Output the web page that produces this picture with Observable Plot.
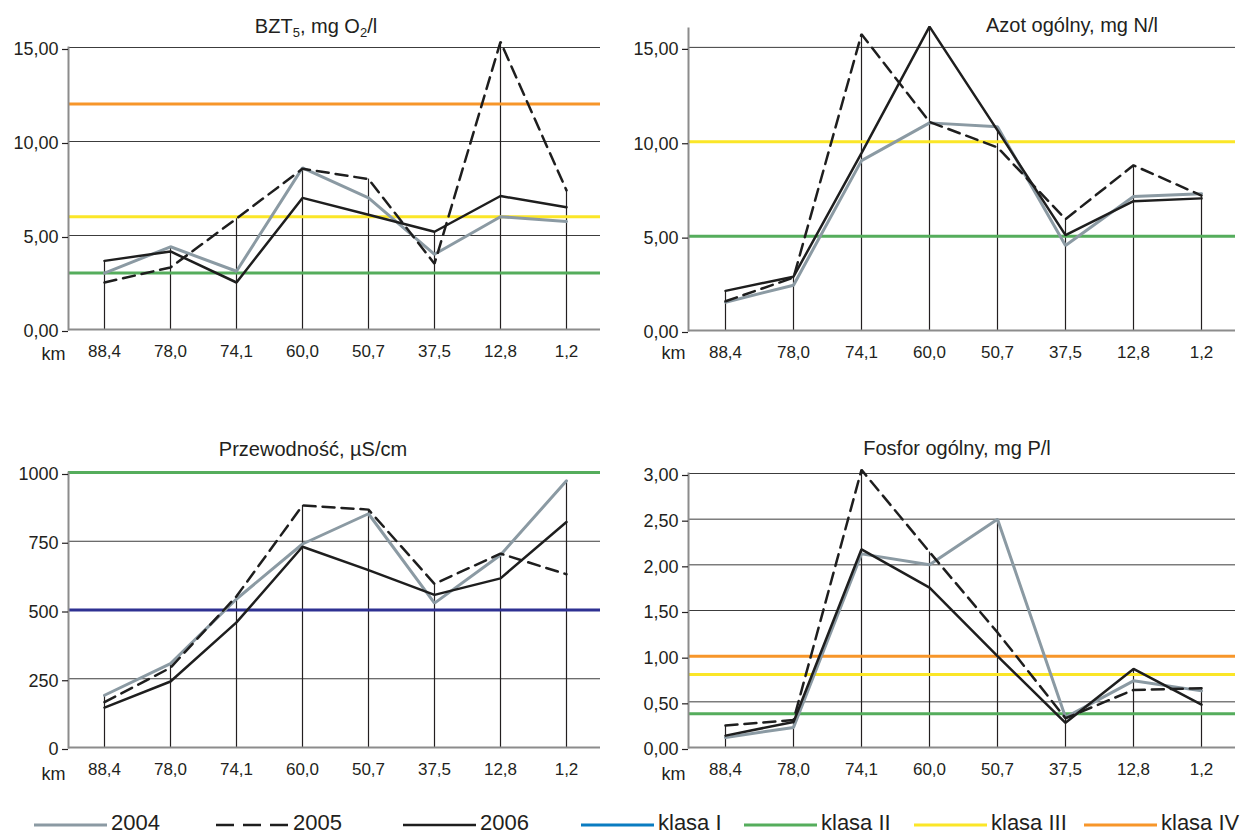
<!DOCTYPE html>
<html lang="pl">
<head>
<meta charset="utf-8">
<script src="https://cdn.jsdelivr.net/npm/d3@7"></script>
<script src="https://cdn.jsdelivr.net/npm/@observablehq/plot@0.6"></script>
<style>
  html, body { margin: 0; padding: 0; background: #fff; }
  #chart { position: relative; width: 1251px; height: 836px; overflow: hidden;
           font-family: "Liberation Sans", Arial, sans-serif; color: #231f20; }
  .panel { position: absolute; }
  .title { position: absolute; font-size: 20px; line-height: 20px; white-space: nowrap;
           transform: translateX(-50%); }
  .title sub { font-size: 13px; vertical-align: -4px; line-height: 0; }
  #legend { position: absolute; left: 0; top: 796px; }
</style>
</head>
<body>
<div id="chart"></div>
<script>
// Measuring stations along the river (km)
const km = ["88,4", "78,0", "74,1", "60,0", "50,7", "37,5", "12,8", "1,2"];
const years = ["2004", "2005", "2006"];
const classNames = ["klasa I", "klasa II", "klasa III", "klasa IV"];

// BZT5, mg O2/l
const bzt2004 = [3.0, 4.4, 3.1, 8.6, 7.0, 4.0, 6.0, 5.75];
const bzt2005 = [2.5, 3.3, 5.9, 8.55, 8.0, 3.5, 15.3, 7.4];
const bzt2006 = [3.65, 4.15, 2.5, 7.0, 6.1, 5.2, 7.1, 6.5];
const bztTicks = [0, 5, 10, 15];
const bztLimits = [3, 6, 12];
const bztClasses = ["klasa II", "klasa III", "klasa IV"];

// Azot ogólny, mg N/l
const azot2004 = [1.5, 2.4, 9.0, 11.0, 10.8, 4.5, 7.1, 7.25];
const azot2005 = [1.55, 2.8, 15.7, 11.05, 9.7, 5.9, 8.75, 7.15];
const azot2006 = [2.1, 2.85, 9.4, 16.1, 10.6, 5.05, 6.85, 7.0];
const azotTicks = [0, 5, 10, 15];
const azotLimits = [5, 10];
const azotClasses = ["klasa II", "klasa III"];

// Przewodność, µS/cm
const przew2004 = [190, 305, 540, 740, 850, 525, 700, 970];
const przew2005 = [165, 290, 550, 880, 865, 595, 705, 630];
const przew2006 = [145, 240, 455, 730, 645, 555, 615, 820];
const przewTicks = [0, 250, 500, 750, 1000];
const przewLimits = [500, 1000];
const przewClasses = ["klasa I", "klasa II"];

// Fosfor ogólny, mg P/l
const fosfor2004 = [0.11, 0.22, 2.12, 2.0, 2.5, 0.33, 0.73, 0.62];
const fosfor2005 = [0.24, 0.30, 3.04, 2.14, 1.26, 0.32, 0.63, 0.65];
const fosfor2006 = [0.13, 0.28, 2.17, 1.75, 1.0, 0.27, 0.86, 0.47];
const fosforTicks = [0, 0.5, 1, 1.5, 2, 2.5, 3];
const fosforLimits = [0.37, 0.8, 1.0];
const fosforClasses = ["klasa II", "klasa III", "klasa IV"];

// Styling
const FONT = '"Liberation Sans", Arial, sans-serif';
const INK = "#231f20";
const yearStyle = {
  "2004": {stroke: "#8b9aa3", width: 3, dash: null, legendDash: null},
  "2005": {stroke: "#1e1e1e", width: 2.5, dash: "12,7", legendDash: "18,9"},
  "2006": {stroke: "#1e1e1e", width: 2.5, dash: null, legendDash: null}
};
const classLineColor = {"klasa I": "#2e3192", "klasa II": "#55ad5c", "klasa III": "#fbe627", "klasa IV": "#f7962a"};
const classLegendColor = {"klasa I": "#0a7cc1", "klasa II": "#55ad5c", "klasa III": "#fbe627", "klasa IV": "#f7962a"};
const comma2 = d => d.toFixed(2).replace(".", ",");

const chart = document.getElementById("chart");

function panel(cfg) {
  const rows = km.map((k, i) => {
    const r = {km: k};
    years.forEach((y, j) => r[y] = cfg.series[j][i]);
    r.top = Math.max(...years.map(y => r[y]));
    return r;
  });
  const limits = cfg.limits.map((v, i) => ({v, klasa: cfg.classes[i]}));

  const svg = Plot.plot({
    width: cfg.width,
    height: 380,
    marginTop: cfg.marginTop,
    marginBottom: cfg.marginBottom,
    marginLeft: 68,
    marginRight: cfg.marginRight,
    style: {fontFamily: FONT, color: INK, background: "transparent", overflow: "visible"},
    x: {type: "point", domain: km, padding: 0, insetLeft: 35, insetRight: 33, label: null},
    y: {domain: cfg.domain, label: null},
    color: {domain: classNames, range: classNames.map(c => classLineColor[c])},
    marks: [
      Plot.ruleY(cfg.ticks.filter(t => t > 0), {stroke: "#3c3c3c", strokeWidth: 1}),
      Plot.ruleX(rows, {x: "km", y1: 0, y2: "top", stroke: INK, strokeWidth: 1.2}),
      Plot.ruleY(limits, {y: "v", stroke: "klasa", strokeWidth: 3}),
      Plot.ruleY([0], {stroke: "#8c8c8c", strokeWidth: 2}),
      Plot.frame({anchor: "left", stroke: "#8c8c8c", strokeWidth: 2}),
      Plot.axisY(cfg.ticks, {tickSize: 6, tickPadding: 4, tickFormat: cfg.format, fontSize: 18, dy: 2, stroke: INK, strokeWidth: 1.2}),
      Plot.axisX({tickSize: 0, tickPadding: 15, fontSize: 17}),
      ...years.map(y => Plot.line(rows, {
        x: "km", y, stroke: yearStyle[y].stroke, strokeWidth: yearStyle[y].width,
        strokeDasharray: yearStyle[y].dash, strokeLinejoin: "miter"
      })),
      Plot.text(["km"], {frameAnchor: "bottom-left", dx: -27, dy: cfg.kmDy, fontSize: 18})
    ]
  });
  svg.classList.add("panel");
  svg.style.left = cfg.left + "px";
  svg.style.top = cfg.top + "px";
  chart.appendChild(svg);

  const t = document.createElement("div");
  t.className = "title";
  t.innerHTML = cfg.title;
  t.style.left = cfg.titleX + "px";
  t.style.top = cfg.titleTop + "px";
  chart.appendChild(t);
}

panel({
  series: [bzt2004, bzt2005, bzt2006], ticks: bztTicks, limits: bztLimits, classes: bztClasses,
  domain: [0, 15], format: comma2, left: 0, top: 0, width: 620, marginTop: 47, marginBottom: 51,
  marginRight: 20, kmDy: 30, title: "BZT<sub>5</sub>, mg O<sub>2</sub>/l", titleX: 316, titleTop: 16
});
panel({
  series: [azot2004, azot2005, azot2006], ticks: azotTicks, limits: azotLimits, classes: azotClasses,
  domain: [0, 16], format: comma2, left: 620, top: 0, width: 631, marginTop: 28, marginBottom: 50,
  marginRight: 16, kmDy: 28, title: "Azot ogólny, mg N/l", titleX: 1072, titleTop: 15
});
panel({
  series: [przew2004, przew2005, przew2006], ticks: przewTicks, limits: przewLimits, classes: przewClasses,
  domain: [0, 1000], format: d => String(d), left: 0, top: 420, width: 620, marginTop: 52, marginBottom: 53,
  marginRight: 20, kmDy: 32, title: "Przewodność, µS/cm", titleX: 313, titleTop: 439
});
panel({
  series: [fosfor2004, fosfor2005, fosfor2006], ticks: fosforTicks, limits: fosforLimits, classes: fosforClasses,
  domain: [0, 3], format: comma2, left: 620, top: 420, width: 631, marginTop: 53, marginBottom: 53,
  marginRight: 16, kmDy: 32, title: "Fosfor ogólny, mg P/l", titleX: 957, titleTop: 438
});

// Legend row: years first, then water quality classes
const legendX = [34, 216, 403, 581, 744, 914, 1084];
const legendLabels = [...years, ...classNames];
const legend = d3.create("svg").attr("id", "legend").attr("width", 1251).attr("height", 40)
  .style("font-family", FONT);
legendLabels.forEach((label, i) => {
  const g = legend.append("g").attr("transform", `translate(${legendX[i]},0)`);
  const isYear = i < years.length;
  const ys = isYear ? yearStyle[label] : null;
  g.append("line").attr("x1", 0).attr("x2", 73).attr("y1", 29).attr("y2", 29)
    .attr("stroke", isYear ? ys.stroke : classLegendColor[label])
    .attr("stroke-width", isYear ? ys.width : 3)
    .attr("stroke-dasharray", isYear ? ys.legendDash : null);
  g.append("text").attr("x", 77).attr("y", 34).attr("font-size", 22).attr("fill", INK).text(label);
});
chart.appendChild(legend.node());
</script>
</body>
</html>
